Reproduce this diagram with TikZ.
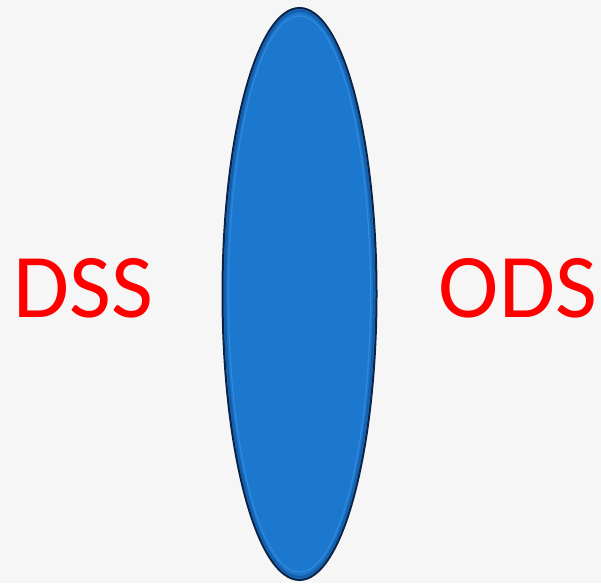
\documentclass[tikz,border=0pt]{standalone}
\usepackage{fontspec}
\setmainfont{Carlito}
\usetikzlibrary{shapes.geometric}

\definecolor{lensblue}{RGB}{28,120,207}
\definecolor{lensedge}{RGB}{10,35,70}
\definecolor{lensdark}{RGB}{20,85,155}
\definecolor{lenshi}{RGB}{70,150,225}
\definecolor{bggray}{RGB}{246,246,246}
\definecolor{labelred}{RGB}{255,0,0}

\begin{document}
\begin{tikzpicture}[x=1pt,y=1pt,line join=round,
  label/.style={text=labelred,font=\fontsize{91}{91}\selectfont,anchor=base,inner sep=0pt}]
  % Background
  \fill[bggray] (0,0) rectangle (601,583);
  \useasboundingbox (0,0) rectangle (601,583);

  % Lens
  \node[ellipse,draw=lensedge,line width=2pt,fill=lensblue,
        minimum width=154pt,minimum height=572pt,inner sep=0pt] (lens) at (299.5,289) {};
  \draw[lensdark,line width=2.5pt,opacity=0.7] (lens.center) ellipse (74.5 and 283);
  \draw[lenshi,line width=1.2pt,opacity=0.5] (lens.center) ellipse (71 and 278);

  % Labels
  \node[label] (dss) at (83.5,265) {DSS};
  \node[label] (ods) at (518,265) {ODS};
\end{tikzpicture}
\end{document}
